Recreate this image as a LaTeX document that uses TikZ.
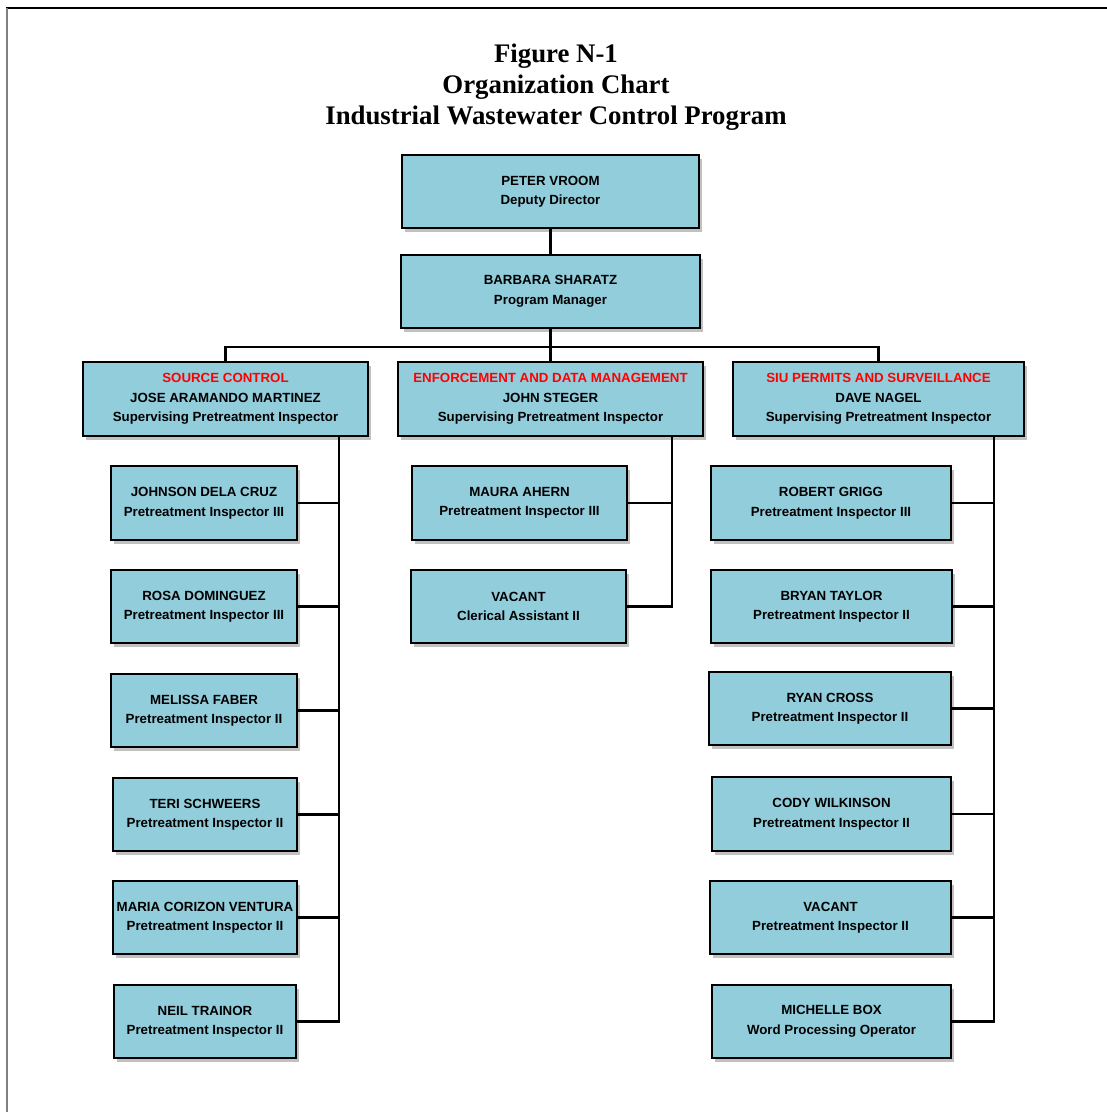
\documentclass[tikz,border=0pt]{standalone}
\usepackage{fontspec}
\setmainfont{Liberation Serif}
\setsansfont{Liberation Sans}
\usetikzlibrary{shadows}
\definecolor{boxblue}{RGB}{146,205,220}
\definecolor{headred}{RGB}{255,0,0}
\tikzset{
	staff/.style={draw=black, line width=2pt, fill=boxblue, align=center, inner sep=0pt,
		font=\sffamily\bfseries\fontsize{13.3}{19.5}\selectfont,
		drop shadow={shadow xshift=3pt, shadow yshift=-3.5pt, opacity=0.35, fill=black!70}},
	link/.style={line width=2.4pt, color=black},
}
\newcommand{\head}[1]{\textcolor{headred}{#1}}

\begin{document}
\begin{tikzpicture}[x=1pt, y=-1pt]
		%%%%% START %%%%%
		\useasboundingbox (0, 0) rectangle (1107, 1112);
		
		\draw[line width=1.2pt, color=black] (6, 8) -- (1107, 8);
		\draw[line width=1.6pt, color=black!50] (7, 8) -- (7, 1112);
		
		\node[align=center, font=\bfseries\fontsize{26.8}{31}\selectfont] (title) at (556, 87) {Figure N-1\\Organization Chart\\Industrial Wastewater Control Program};
		
		% top
		\node[staff, minimum width=297, minimum height=73] (vroom) at (550.5, 191.5) {PETER VROOM\\Deputy Director};
		\node[staff, minimum width=299, minimum height=73] (sharatz) at (550.5, 291.5) {BARBARA SHARATZ\\Program Manager};
		
		% sections
		\node[staff, minimum width=285, minimum height=74] (src) at (225.5, 399) {\head{SOURCE CONTROL}\\JOSE ARAMANDO MARTINEZ\\Supervising Pretreatment Inspector};
		\node[staff, minimum width=305, minimum height=74] (enf) at (550.5, 399) {\head{ENFORCEMENT AND DATA MANAGEMENT}\\JOHN STEGER\\Supervising Pretreatment Inspector};
		\node[staff, minimum width=291, minimum height=74] (siu) at (878.5, 399) {\head{SIU PERMITS AND SURVEILLANCE}\\DAVE NAGEL\\Supervising Pretreatment Inspector};
		
		% source control
		\node[staff, minimum width=186, minimum height=74] (johnson) at (204, 503) {JOHNSON DELA CRUZ\\Pretreatment Inspector III};
		\node[staff, minimum width=186, minimum height=73] (rosa) at (204, 606.5) {ROSA DOMINGUEZ\\Pretreatment Inspector III};
		\node[staff, minimum width=186, minimum height=73] (melissa) at (204, 710.5) {MELISSA FABER\\Pretreatment Inspector II};
		\node[staff, minimum width=184, minimum height=73] (teri) at (205, 814.5) {TERI SCHWEERS\\Pretreatment Inspector II};
		\node[staff, minimum width=184, minimum height=73] (maria) at (205, 917.5) {MARIA CORIZON VENTURA\\Pretreatment Inspector II};
		\node[staff, minimum width=182, minimum height=73] (neil) at (205, 1021.5) {NEIL TRAINOR\\Pretreatment Inspector II};
		
		% enforcement
		\node[staff, minimum width=215, minimum height=74] (maura) at (519.5, 503) {MAURA AHERN\\Pretreatment Inspector III};
		\node[staff, minimum width=215, minimum height=73] (clerk) at (518.5, 606.5) {VACANT\\Clerical Assistant II};
		
		% siu permits
		\node[staff, minimum width=240, minimum height=74] (grigg) at (831, 503) {ROBERT GRIGG\\Pretreatment Inspector III};
		\node[staff, minimum width=241, minimum height=73] (taylor) at (831.5, 606.5) {BRYAN TAYLOR\\Pretreatment Inspector II};
		\node[staff, minimum width=242, minimum height=73] (cross) at (830, 708.5) {RYAN CROSS\\Pretreatment Inspector II};
		\node[staff, minimum width=239, minimum height=74] (wilkinson) at (831.5, 814) {CODY WILKINSON\\Pretreatment Inspector II};
		\node[staff, minimum width=241, minimum height=73] (siuvacant) at (830.5, 917.5) {VACANT\\Pretreatment Inspector II};
		\node[staff, minimum width=239, minimum height=73] (box) at (831.5, 1021.5) {MICHELLE BOX\\Word Processing Operator};
		
		% links
		\coordinate (bus) at (550, 347);
		\coordinate (trunkL) at (339, 436);
		\coordinate (trunkM) at (672, 436);
		\coordinate (trunkR) at (994, 436);
		
		\draw[link] (vroom) -- (sharatz);
		\draw[link] (sharatz) -- (enf);
		\draw[link] (src.north) -- (src.north |- bus) -- (siu.north |- bus) -- (siu.north);
		
		\draw[link] (trunkL) -- (trunkL |- neil.east) -- (neil.east);
		\foreach \n in {johnson, rosa, melissa, teri, maria}
			\draw[link] (\n.east) -- (\n.east -| trunkL);
		
		\draw[link] (trunkM) -- (trunkM |- clerk.east) -- (clerk.east);
		\draw[link] (maura.east) -- (maura.east -| trunkM);
		
		\draw[link] (trunkR) -- (trunkR |- box.east) -- (box.east);
		\foreach \n in {grigg, taylor, cross, wilkinson, siuvacant}
			\draw[link] (\n.east) -- (\n.east -| trunkR);
		
		%%%%% END %%%%%
\end{tikzpicture}
\end{document}
